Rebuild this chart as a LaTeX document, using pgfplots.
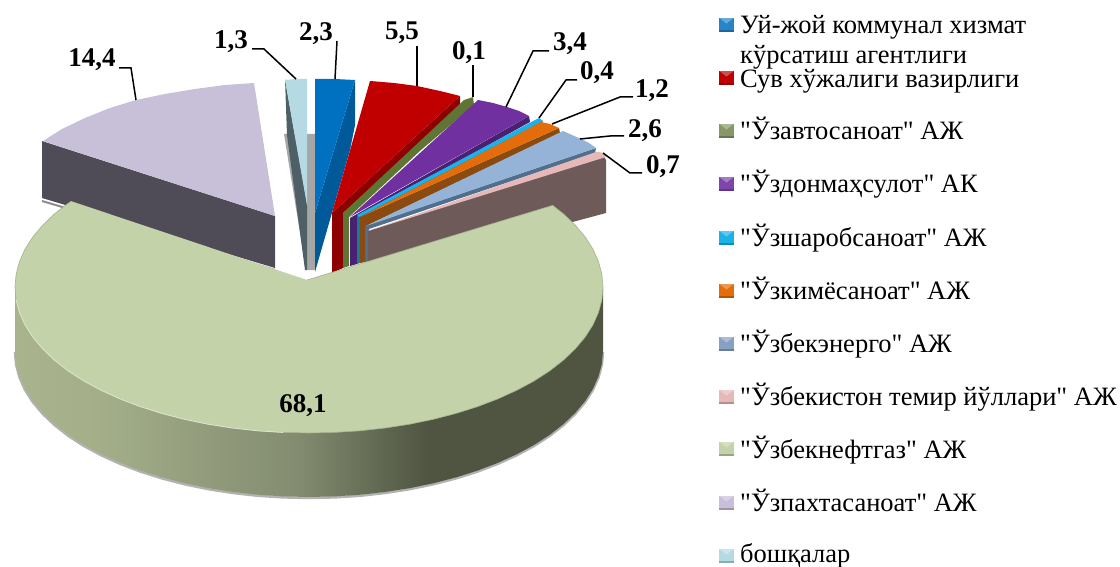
\documentclass[border=0pt]{standalone}
\usepackage{fontspec}
\setmainfont{Liberation Serif}[Ligatures=TeXOff]
\usepackage{pgfplots}
\pgfplotsset{compat=1.18}

\definecolor{gtop}{HTML}{C3D2A9}
\definecolor{mtop}{HTML}{C8BFD9}
\definecolor{mside}{HTML}{504C57}
\definecolor{ltop}{HTML}{B6DAE4}
\definecolor{lside}{HTML}{4E5F65}
\definecolor{btop}{HTML}{0070C0}
\definecolor{bside}{HTML}{005A9A}
\definecolor{rtop}{HTML}{C00000}
\definecolor{rside}{HTML}{8C0000}
\definecolor{oside}{HTML}{5F7533}
\definecolor{ptop}{HTML}{7030A0}
\definecolor{pside}{HTML}{4A2070}
\definecolor{ctop}{HTML}{19B3EA}
\definecolor{cside}{HTML}{0E7D9E}
\definecolor{atop}{HTML}{E46C0A}
\definecolor{aside}{HTML}{8B4A10}
\definecolor{stop}{HTML}{95B3D7}
\definecolor{sside}{HTML}{4F6F8C}
\definecolor{ktop}{HTML}{E6B9B8}
\definecolor{kside}{HTML}{6F5A5A}
\definecolor{gs0}{HTML}{A9B48F}
\definecolor{gs1}{HTML}{A4AF8A}
\definecolor{gs2}{HTML}{838C70}
\definecolor{gs3}{HTML}{4F5541}

\pgfdeclarehorizontalshading{greenside}{100bp}{
  color(0bp)=(gs0); color(25bp)=(gs0); color(32bp)=(gs1);
  color(49bp)=(gs2); color(60bp)=(gs3); color(100bp)=(gs3)}

% legend key: square with lit top and a dark lower edge
\pgfdeclareplotmark{bev}{%
  \pgfpathrectangle{\pgfqpoint{-\pgfplotmarksize}{-\pgfplotmarksize}}{\pgfqpoint{2\pgfplotmarksize}{2\pgfplotmarksize}}%
  \pgfusepathqfill
  \pgfsetfillopacity{0.3}\pgfsetcolor{white}%
  \pgfpathmoveto{\pgfqpoint{-\pgfplotmarksize}{\pgfplotmarksize}}%
  \pgfpathlineto{\pgfqpoint{\pgfplotmarksize}{\pgfplotmarksize}}%
  \pgfpathlineto{\pgfqpoint{0pt}{0.2\pgfplotmarksize}}\pgfpathclose\pgfusepathqfill
  \pgfsetfillopacity{0.22}\pgfsetcolor{black}%
  \pgfpathrectangle{\pgfqpoint{-\pgfplotmarksize}{-\pgfplotmarksize}}{\pgfqpoint{2\pgfplotmarksize}{2.5pt}}%
  \pgfusepathqfill
}

\pgfplotsset{
  face/.style={draw=none,fill=#1,no markers,forget plot},
  lead/.style={draw=black,line width=1.5pt,no markers,forget plot},
  key/.style={only marks,mark=bev,mark size=7.2pt,color=#1,forget plot},
}
\newcommand{\val}[3]{\node[font=\fontsize{27}{30}\selectfont\bfseries,inner sep=0pt] at (axis cs:#1,#2) {#3};}
\newcommand{\leg}[2]{\node[font=\fontsize{26.5}{30}\selectfont,anchor=base west,inner sep=0pt] at (axis cs:740,#1) {#2};}

\begin{document}
\begin{tikzpicture}
\useasboundingbox (0,0) rectangle (1120pt,567pt);
\begin{axis}[
    at={(0,0)}, anchor=south west,
    width=1120pt, height=567pt, scale only axis,
    xmin=0, xmax=1120, ymin=0, ymax=567,
    y dir=reverse,
    hide axis,
    clip=false,
]
% back wall
\addplot[face=black!35] coordinates {(284,134)(315,134)(315,270)(306,270)};

% 1,3
\addplot[face=lside] coordinates {(285,79)(287,135)(305,270)(307,270)(307,205)};
\addplot[face=ltop] coordinates {(285,80)(296,79)(307,79)(307,205)};

% 2,3
\addplot[face=bside] coordinates {(355,80)(355,125)(350,150)(315,272)(315,213)};
\addplot[face=btop] coordinates {(315,79)(335,79)(355,80)(315,213)};

% 5,5
\addplot[face=rside] coordinates {(332,213)(460,96)(460,108)(343,213)(343,268)(332,273)};
\addplot[face=rtop] coordinates {(370,81)(394,83)(417,86)(440,91)(460,96)(332,213)};

% 0,1
\addplot[face=oside] coordinates {(464,100)(473,97)(474,105)(421,150)(349,217)(349,266)(343,268)(343,213)};

% 3,4
\addplot[face=pside] coordinates {(350,218)(529,116)(530,122)(357,218)(357,264)(350,266)};
\addplot[face=ptop] coordinates {(478,100)(493,103)(507,107)(519,111)(529,116)(350,217)};

% 0,4
\addplot[face=cside] coordinates {(357,216)(541,120)(543,122)(360,218)(360,263)(357,264)};
\addplot[face=ctop] coordinates {(357,215)(535,120)(539,118)(543,121)(359,217)};

% 1,2
\addplot[face=aside] coordinates {(360,217)(559,128)(560,133)(366,226)(366,262)(360,263)};
\addplot[face=atop] coordinates {(360,217)(541,122)(550,124)(559,128)};

% 2,6
\addplot[face=sside] coordinates {(365,226)(596,148)(595,153)(369,229)(369,262)(365,262)};
\addplot[face=stop] coordinates {(366,226)(563,131)(572,135)(581,139)(589,143)(596,148)};

% 0,7
\addplot[face=kside] coordinates {(368,231)(603,155)(606,160)(606,213)(368,277)};
\addplot[face=ktop] coordinates {(368,231)(596,152)(599,152)(603,153)(606,157)};

% 14,4
\addplot[draw=black!45,line width=2pt,no markers,forget plot] coordinates {(42,201)(275,270)};
\addplot[face=mside] coordinates {(42,141)(275,216)(275,268)(42,198)};
\addplot[face=mtop] coordinates {(254,83)(225,85)(195,89)(165,94)(136,100)(110,108)(85,118)(62,129)(43,141)(275,216)};

% 68,1 shadow under the rim
\addplot[draw=black!30,line width=2.5pt,no markers,forget plot] coordinates {
  (603,352)(601.9,364.7)(598.5,377.4)(593,389.8)(585.3,401.9)(575.4,413.7)(563.6,425)(549.8,435.8)(534.2,445.9)(516.9,455.2)(498,463.8)(477.6,471.6)(456,478.4)(433.3,484.3)(409.6,489.2)(385.1,493)(360,495.8)(334.6,497.4)(309,498)
  (283.4,497.4)(258,495.8)(232.9,493)(208.4,489.2)(184.7,484.3)(162,478.4)(140.4,471.6)(120,463.8)(101.1,455.2)(83.8,445.9)(68.2,435.8)(54.4,425)(42.6,413.7)(32.7,401.9)(25,389.8)(19.5,377.4)(16.1,364.7)(15,352)};
% 68,1 rim
\addplot[draw=none,shade,shading=greenside,no markers,forget plot] coordinates {
  (603,287)(603,351)(601.9,363.7)(598.5,376.4)(593,388.8)(585.3,400.9)(575.4,412.7)(563.6,424)(549.8,434.8)(534.2,444.9)(516.9,454.2)(498,462.8)(477.6,470.6)(456,477.4)(433.3,483.3)(409.6,488.2)(385.1,492)(360,494.8)(334.6,496.4)(309,497)
  (283.4,496.4)(258,494.8)(232.9,492)(208.4,488.2)(184.7,483.3)(162,477.4)(140.4,470.6)(120,462.8)(101.1,454.2)(83.8,444.9)(68.2,434.8)(54.4,424)(42.6,412.7)(32.7,400.9)(25,388.8)(19.5,376.4)(16.1,363.7)(15,351)(15,287)};
% 68,1 top
\addplot[draw=gtop!85!black,line width=0.6pt,fill=gtop,no markers,forget plot] coordinates {
  (307,280)(552.7,205.4)(563.6,214)(575.4,225.3)(585.3,237.1)(593,249.2)(598.5,261.6)(601.9,274.3)(603,287)(601.9,299.7)(598.5,312.4)(593,324.8)(585.3,336.9)(575.4,348.7)(563.6,360)(549.8,370.8)(534.2,380.9)(516.9,390.2)(498,398.8)(477.6,406.6)(456,413.4)(433.3,419.3)(409.6,424.2)(385.1,428)(360,430.8)(334.6,432.4)(309,433)
  (283.4,432.4)(258,430.8)(232.9,428)(208.4,424.2)(184.7,419.3)(162,413.4)(140.4,406.6)(120,398.8)(101.1,390.2)(83.8,380.9)(68.2,370.8)(54.4,360)(42.6,348.7)(32.7,336.9)(25,324.8)(19.5,312.4)(16.1,299.7)(15,287)(16.1,274.3)(19.5,261.6)(25,249.2)(32.7,237.1)(42.6,225.3)(54.4,214)(65.3,205.4)(71.2,201.2)};
% light rim edge on the left front
\addplot[draw=gtop!60!white,line width=1pt,no markers,forget plot] coordinates {
  (283.4,432.4)(258,430.8)(232.9,428)(208.4,424.2)(184.7,419.3)(162,413.4)(140.4,406.6)(120,398.8)(101.1,390.2)(83.8,380.9)(68.2,370.8)(54.4,360)(42.6,348.7)(32.7,336.9)(25,324.8)(19.5,312.4)(16.1,299.7)};

% leader lines
\addplot[lead] coordinates {(119,68)(131,68)(136,100)};
\addplot[lead] coordinates {(252,49)(264,49)(296,79)};
\addplot[lead] coordinates {(337,41)(335,79)};
\addplot[lead] coordinates {(417,46)(417,86)};
\addplot[lead] coordinates {(473,65)(473,97)};
\addplot[lead] coordinates {(549,51)(533,51)(506,107)};
\addplot[lead] coordinates {(577,80)(566,80)(539,118)};
\addplot[lead] coordinates {(633,97)(620,97)(552,124)};
\addplot[lead] coordinates {(624,136)(610,136)(580,139)};
\addplot[lead] coordinates {(603,153)(630,173)(642,173)};

% values
\val{92}{60}{14,4}
\val{231}{42}{1,3}
\val{316}{34}{2,3}
\val{402}{33}{5,5}
\val{469}{53}{0,1}
\val{570}{44}{3,4}
\val{597}{73}{0,4}
\val{652}{91}{1,2}
\val{645}{131}{2,6}
\val{663}{167}{0,7}
\val{303}{406}{68,1}

% legend keys
\addplot[key=btop!85!white] coordinates {(726.5,25)};
\addplot[key=rtop] coordinates {(726.5,78)};
\addplot[key=oside!75!white] coordinates {(726.5,131)};
\addplot[key=ptop!90!white] coordinates {(726.5,184)};
\addplot[key=ctop] coordinates {(726.5,238)};
\addplot[key=atop] coordinates {(726.5,291)};
\addplot[key=stop!90!black] coordinates {(726.5,344)};
\addplot[key=ktop] coordinates {(726.5,397)};
\addplot[key=gtop] coordinates {(726.5,449)};
\addplot[key=mtop] coordinates {(726.5,503)};
\addplot[key=ltop] coordinates {(726.5,556)};

% legend text
\leg{34}{Уй-жой коммунал хизмат}
\leg{64}{кўрсатиш агентлиги}
\leg{88}{Сув хўжалиги вазирлиги}
\leg{140}{"Ўзавтосаноат" АЖ}
\leg{193}{"Ўздонмаҳсулот" АК}
\leg{246}{"Ўзшаробсаноат" АЖ}
\leg{299}{"Ўзкимёсаноат" АЖ}
\leg{352}{"Ўзбекэнерго" АЖ}
\leg{405}{"Ўзбекистон темир йўллари" АЖ}
\leg{458}{"Ўзбекнефтгаз" АЖ}
\leg{511}{"Ўзпахтасаноат" АЖ}
\leg{562}{бошқалар}
\end{axis}
\end{tikzpicture}
\end{document}
